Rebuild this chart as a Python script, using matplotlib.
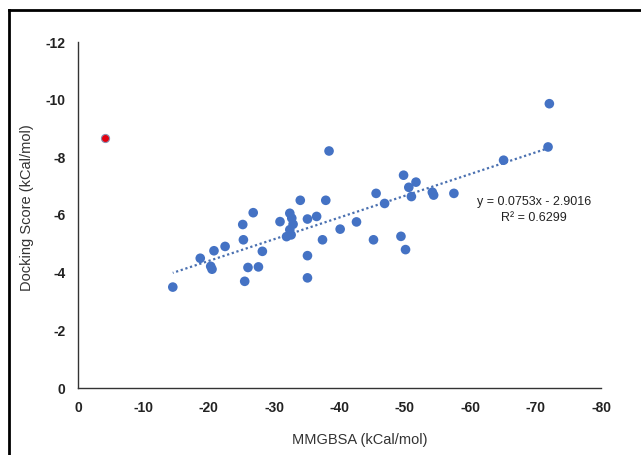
import numpy as np
import matplotlib
matplotlib.use("Agg")
import matplotlib.pyplot as plt
from matplotlib.lines import Line2D

# MMGBSA vs docking score (kcal/mol)
mmgbsa = [-72.1, -71.9, -38.4, -65.1, -49.8, -51.7, -50.6, -54.2, -54.4, -51.0,
          -57.5, -45.6, -46.9, -34.0, -37.9, -26.8, -32.4, -32.7, -32.9, -32.4,
          -31.9, -32.6, -36.5, -35.1, -30.9, -25.2, -42.6, -40.1, -25.3, -37.4,
          -45.2, -49.4, -50.1, -22.5, -20.8, -28.2, -35.1, -18.7, -20.3, -20.5,
          -26.0, -27.6, -25.5, -35.1, -14.5]
docking = [-9.86, -8.36, -8.22, -7.90, -7.38, -7.14, -6.96, -6.79, -6.69, -6.64,
           -6.75, -6.75, -6.40, -6.51, -6.51, -6.08, -6.06, -5.89, -5.68, -5.49,
           -5.25, -5.31, -5.95, -5.86, -5.77, -5.67, -5.76, -5.51, -5.14, -5.14,
           -5.14, -5.26, -4.80, -4.91, -4.76, -4.74, -4.59, -4.50, -4.22, -4.12,
           -4.18, -4.20, -3.70, -3.82, -3.50]

# outlier drawn in red, not part of the fit
outlier_x = [-4.2]
outlier_y = [-8.66]

slope = 0.0753
intercept = -2.9016
r2 = 0.6299

x_ticks = [0, -10, -20, -30, -40, -50, -60, -70, -80]
y_ticks = [0, -2, -4, -6, -8, -10, -12]

plt.rcParams["font.family"] = ["Liberation Sans", "DejaVu Sans"]

fig = plt.figure(figsize=(6.41, 4.55), dpi=100)
ax = fig.add_axes([78 / 641, 1 - 388 / 455, 523 / 641, 346 / 455])

ax.scatter(mmgbsa, docking, s=48, color="#4472C4", edgecolors="none", zorder=3)
ax.scatter(outlier_x, outlier_y, s=34, color="#E3000F", edgecolors="#8A8FB0",
           linewidths=0.8, zorder=4)

xs = np.array([min(mmgbsa), max(mmgbsa)])
ax.plot(xs, slope * xs + intercept, linestyle=(0, (1, 1.2)), color="#4A70B0",
        linewidth=1.6, zorder=2)

ax.text(534, 245, f"y = {slope}x - {abs(intercept)}\nR\u00b2 = {r2}",
        transform=None, ha="center", va="center", fontsize=9, color="#222222",
        linespacing=1.5)

ax.set_xlim(0, -80)
ax.set_ylim(0, -12)
ax.set_xticks(x_ticks)
ax.set_yticks(y_ticks)
ax.set_xticklabels([str(t) for t in x_ticks], fontweight="bold")
ax.set_yticklabels([str(t) for t in y_ticks], fontweight="bold")
ax.tick_params(length=0, labelsize=10, colors="#222222", pad=9)

for side in ("top", "right"):
    ax.spines[side].set_visible(False)
for side in ("left", "bottom"):
    ax.spines[side].set_color("#333333")
    ax.spines[side].set_linewidth(1.0)

ax.set_xlabel("MMGBSA (kCal/mol)", fontsize=10.5, color="#333333")
ax.set_ylabel("Docking Score (kCal/mol)", fontsize=10.5, color="#333333")
ax.xaxis.set_label_coords((360 - 78) / 523, -(433 - 388) / 346)
ax.yaxis.set_label_coords(-(78 - 34) / 523, (388 - 208) / 346)

# chart-area frame (left and top edges visible in the crop)
fig.add_artist(Line2D([9 / 641, 9 / 641], [0, 1 - 10 / 455],
                      transform=fig.transFigure, color="black", linewidth=2))
fig.add_artist(Line2D([9 / 641, 1], [1 - 10 / 455, 1 - 10 / 455],
                      transform=fig.transFigure, color="black", linewidth=2))

fig.savefig("out.png", dpi=100)
